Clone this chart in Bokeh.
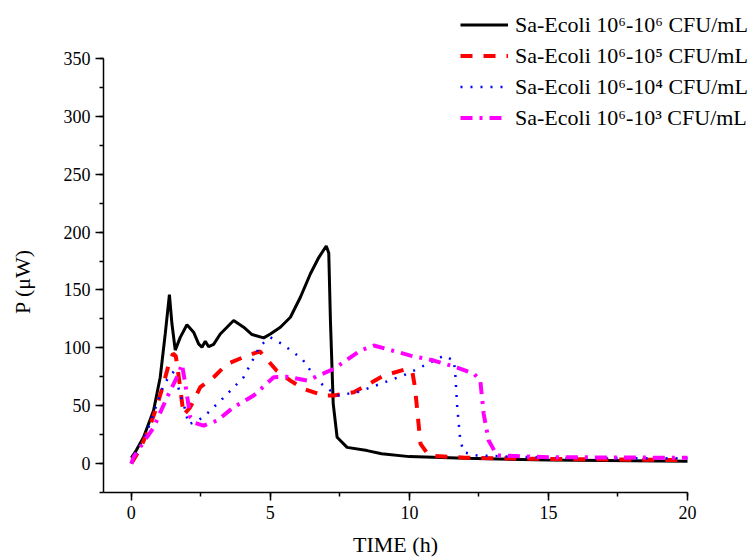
from bokeh.plotting import figure
from bokeh.models import Legend, LegendItem, SingleIntervalTicker, Range1d, Label
from bokeh.embed import file_html
from bokeh.resources import INLINE

# ---- data ----
black_x = [0.0, 0.14, 0.44, 0.8, 1.04, 1.22, 1.37, 1.46, 1.58, 1.76, 2.0, 2.24, 2.42, 2.54, 2.66,
           2.78, 2.96, 3.2, 3.68, 4.04, 4.34, 4.76, 5.0, 5.36, 5.72, 6.08, 6.44, 6.74, 7.01, 7.1,
           7.16, 7.26, 7.4, 7.76, 8.48, 9.0, 10.0, 12.0, 15.0, 20.0]
black_y = [5, 9.8, 22.7, 45.8, 74.6, 112, 146, 121, 98, 109, 120, 113.5, 103.4, 100.5, 105.7,
           101, 103, 112, 123.6, 117.8, 111.5, 108.6, 112, 117.8, 126.4, 143.7, 164, 178, 188, 182,
           123.6, 51.8, 22.7, 14, 11.2, 8.5, 6.0, 4.5, 3.0, 2.0]

red_x = [0.0, 0.3, 0.6, 0.9, 1.16, 1.35, 1.5, 1.6, 1.74, 1.88, 2.12, 2.48, 2.96, 3.44, 4.04, 4.62,
         5.24, 5.72, 6.2, 6.92, 7.28, 8.0, 9.08, 9.8, 10.1, 10.2, 10.4, 10.7, 12.0, 15.0, 20.0]
red_y = [0, 12, 28, 48, 69, 86, 95, 93, 69, 42, 48.7, 66, 74.6, 86, 92, 97,
         80, 71.7, 64.5, 58.8, 58.8, 61.6, 76, 81, 80, 66, 17, 7, 5, 4, 3]

blue_x = [0.0, 0.3, 0.6, 0.9, 1.1, 1.34, 1.55, 1.75, 1.9, 2.06, 2.4, 2.72, 3.32, 4.04, 4.64, 5.0,
          5.42, 6.14, 6.44, 6.68, 7.4, 8.12, 8.96, 9.92, 10.64, 11.24, 11.6, 11.65, 11.72, 11.83,
          11.96, 12.43, 15.0, 20.0]
blue_y = [0, 14, 30, 50, 64, 75, 80, 60, 50, 34, 37, 43, 57, 74.6, 102, 109,
          103.4, 90.5, 80.4, 71.7, 58.8, 61.6, 68.9, 77.5, 86, 93.3, 89, 77.5, 48.7, 19.9,
          9.8, 7, 5, 4.5]

mag_x = [0.0, 0.08, 0.4, 0.8, 1.28, 1.7, 1.82, 1.94, 2.12, 2.3, 2.6, 3.08, 3.68, 4.4, 5.12, 5.6,
         6.32, 7.28, 8.24, 8.72, 10.04, 10.88, 11.72, 12.32, 12.55, 12.67, 12.85, 13.15, 15.0, 20.0]
mag_y = [0, 5.5, 17, 31, 57, 77.5, 86, 69, 40, 35, 32.8, 37, 48.7, 58.8, 74.6, 75,
         71.7, 81.8, 97.7, 102, 93.3, 89, 83, 77.5, 71.7, 43, 19.9, 7, 5.5, 5]

labels = ["Sa-Ecoli 10\u2076-10\u2076 CFU/mL",
          "Sa-Ecoli 10\u2076-10\u2075 CFU/mL",
          "Sa-Ecoli 10\u2076-10\u2074 CFU/mL",
          "Sa-Ecoli 10\u2076-10\u00b3 CFU/mL"]

x_label = "TIME (h)"
y_label = "P (\u03bcW)"

x_axis_span = (-1, 20)
y_axis_span = (-25, 350)

# ---- layout (pixels) ----
W, H = 749, 559
AX_L, AX_R, AX_T, AX_B = 103, 687, 58, 492     # axes box in the page
FONT = "Liberation Serif"

xs = (AX_R - AX_L) / (x_axis_span[1] - x_axis_span[0])
ys = (AX_B - AX_T) / (y_axis_span[1] - y_axis_span[0])

def px_to_x(px):
    return x_axis_span[0] + (px - AX_L) / xs

def py_to_y(py):
    return y_axis_span[0] + (AX_B - py) / ys

# the frame covers the whole page (so the overhanging legend is not clipped);
# the axes are pinned at the axes box with fixed_location and limited with bounds
p = figure(width=W, height=H, output_backend="svg", toolbar_location=None,
           x_range=Range1d(px_to_x(0), px_to_x(W)), y_range=Range1d(py_to_y(H), py_to_y(0)),
           min_border=0, min_border_left=0, min_border_right=0, min_border_top=0,
           min_border_bottom=0)
p.outline_line_color = None
p.grid.visible = False
p.background_fill_color = "white"
p.border_fill_color = "white"

r1 = p.line(black_x, black_y, line_color="black", line_width=3)
r2 = p.line(red_x, red_y, line_color="#ff0000", line_width=4, line_dash="12 11")
r3 = p.line(blue_x, blue_y, line_color="#0000ff", line_width=2.5, line_dash="2 8")
r4 = p.line(mag_x, mag_y, line_color="#ff00ff", line_width=4, line_dash="12 7 3 7")

p.xaxis.ticker = SingleIntervalTicker(interval=5, num_minor_ticks=2)
p.yaxis.ticker = SingleIntervalTicker(interval=50, num_minor_ticks=2)
p.xaxis.bounds = x_axis_span
p.yaxis.bounds = y_axis_span
p.xaxis.fixed_location = y_axis_span[0]
p.yaxis.fixed_location = x_axis_span[0]

for ax in (p.xaxis, p.yaxis):
    ax.axis_line_color = "black"
    ax.axis_line_width = 1.5
    ax.major_tick_line_color = "black"
    ax.major_tick_line_width = 1.5
    ax.minor_tick_line_color = "black"
    ax.minor_tick_line_width = 1.5
    ax.major_tick_in = 0
    ax.major_tick_out = 8
    ax.minor_tick_in = 0
    ax.minor_tick_out = 4
    ax.major_label_text_font = FONT
    ax.major_label_text_font_size = "18px"
    ax.major_label_text_color = "black"
    ax.major_label_standoff = 5

# axis titles, centred on the axes' spans
p.add_layout(Label(x=sum(x_axis_span) / 2, y=py_to_y(544), text=x_label,
                   text_font=FONT, text_font_size="22px", text_color="black",
                   text_align="center", text_baseline="middle"))
p.add_layout(Label(x=px_to_x(22), y=py_to_y(281), text=y_label, angle=90, angle_units="deg",
                   text_font=FONT, text_font_size="22px", text_color="black",
                   text_align="center", text_baseline="middle"))

legend = Legend(items=[LegendItem(label=labels[0], renderers=[r1]),
                       LegendItem(label=labels[1], renderers=[r2]),
                       LegendItem(label=labels[2], renderers=[r3]),
                       LegendItem(label=labels[3], renderers=[r4])],
                location=(460, H - 133),
                label_text_font=FONT, label_text_font_size="22px", label_text_color="black",
                glyph_width=48, glyph_height=31, label_height=31,
                spacing=0, padding=0, margin=0, label_standoff=7,
                border_line_color=None, background_fill_alpha=0)
p.add_layout(legend)

open("out.html", "w").write(file_html(p, INLINE))
